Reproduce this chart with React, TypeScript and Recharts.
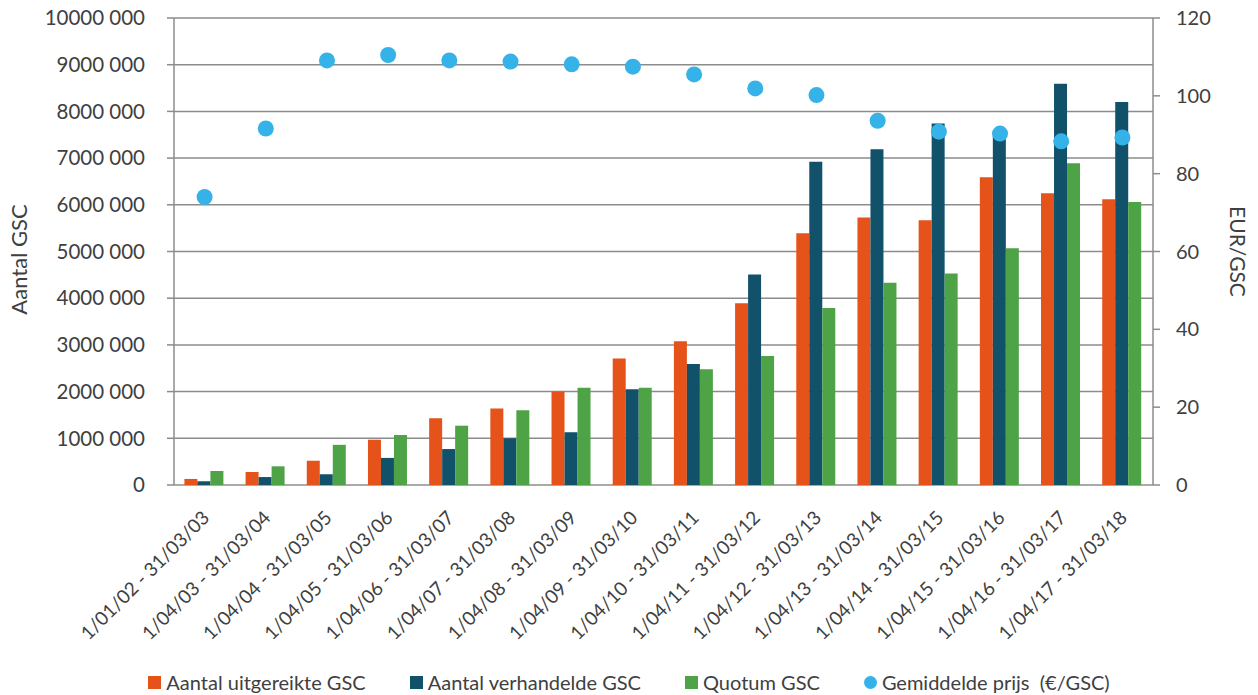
import { ComposedChart, Bar, Scatter, XAxis, YAxis, CartesianGrid, Legend } from 'recharts'

// Groenestroomcertificaten per periode
const periods = [
  '1/01/02 - 31/03/03',
  '1/04/03 - 31/03/04',
  '1/04/04 - 31/03/05',
  '1/04/05 - 31/03/06',
  '1/04/06 - 31/03/07',
  '1/04/07 - 31/03/08',
  '1/04/08 - 31/03/09',
  '1/04/09 - 31/03/10',
  '1/04/10 - 31/03/11',
  '1/04/11 - 31/03/12',
  '1/04/12 - 31/03/13',
  '1/04/13 - 31/03/14',
  '1/04/14 - 31/03/15',
  '1/04/15 - 31/03/16',
  '1/04/16 - 31/03/17',
  '1/04/17 - 31/03/18',
]

const uitgereikt = [
  130000, 280000, 520000, 970000, 1430000, 1640000, 2000000, 2710000, 3080000, 3890000, 5390000,
  5730000, 5670000, 6590000, 6250000, 6120000,
]
const verhandeld = [
  80000, 170000, 230000, 580000, 770000, 1000000, 1130000, 2050000, 2590000, 4510000, 6920000,
  7190000, 7740000, 7550000, 8590000, 8200000,
]
const quotum = [
  300000, 400000, 860000, 1070000, 1270000, 1600000, 2080000, 2080000, 2480000, 2760000, 3790000,
  4330000, 4530000, 5070000, 6890000, 6060000,
]
const prijs = [74, 91.6, 109.1, 110.5, 109.1, 108.8, 108.1, 107.5, 105.5, 101.9, 100.2, 93.6, 90.8, 90.3, 88.3, 89.3]

const countTicks = [0, 1000000, 2000000, 3000000, 4000000, 5000000, 6000000, 7000000, 8000000, 9000000, 10000000]
const priceTicks = [0, 20, 40, 60, 80, 100, 120]
const boundaryTicks = periods.map((_, i) => i).concat(periods.length)

const FONT = 'Lato, "Open Sans", sans-serif'
const TEXT = '#404040'
const AXIS = '#8c8c8c'

const legendItems = [
  { label: 'Aantal uitgereikte GSC', color: '#e6531a', round: false },
  { label: 'Aantal verhandelde GSC', color: '#12516a', round: false },
  { label: 'Quotum GSC', color: '#4ea346', round: false },
  { label: 'Gemiddelde prijs  (€/GSC)', color: '#35b3e9', round: true },
]

const data = periods.map((period, i) => ({
  period,
  uitgereikt: uitgereikt[i],
  verhandeld: verhandeld[i],
  quotum: quotum[i],
  prijs: prijs[i],
}))

const formatCount = (v: number) => (v === 0 ? '0' : `${v / 1000} 000`)

function PeriodTick({ x, y, payload }: any) {
  return (
    <g transform={`translate(${x + 6},${y + 34}) rotate(-45)`}>
      <text x={0} y={0} textAnchor="end" fontSize={19} fill={TEXT} fontFamily={FONT}>
        {payload.value}
      </text>
    </g>
  )
}

function LegendContent() {
  return (
    <div
      style={{
        height: 26,
        display: 'flex',
        justifyContent: 'center',
        alignItems: 'center',
        gap: 44,
        fontFamily: FONT,
        fontSize: 20,
        color: TEXT,
      }}
    >
      {legendItems.map((item) => (
        <div key={item.label} style={{ display: 'flex', alignItems: 'center', gap: 5 }}>
          <span
            style={{
              width: 13,
              height: 13,
              background: item.color,
              borderRadius: item.round ? '50%' : 0,
              display: 'inline-block',
            }}
          />
          <span style={{ whiteSpace: 'pre' }}>{item.label}</span>
        </div>
      ))}
    </div>
  )
}

export default function App() {
  return (
    <div>
      <style>{'body{margin:0;background:#fff}'}</style>
      <ComposedChart
        width={1258}
        height={695}
        data={data}
        margin={{ top: 18, right: 0, bottom: 0, left: 0 }}
        barCategoryGap="17%"
        barGap={0}
        style={{ fontFamily: FONT }}
      >
        <CartesianGrid yAxisId="left" vertical={false} stroke={AXIS} strokeWidth={1.5} />
        <XAxis
          xAxisId="bounds"
          type="number"
          domain={[0, periods.length]}
          ticks={boundaryTicks}
          tick={false}
          tickSize={7}
          tickLine={{ stroke: AXIS, strokeWidth: 1.5 }}
          axisLine={{ stroke: AXIS, strokeWidth: 1.5 }}
          height={0}
          allowDataOverflow
        />
        <XAxis
          dataKey="period"
          interval={0}
          height={184}
          tickSize={0}
          tickMargin={0}
          tickLine={false}
          axisLine={false}
          tick={<PeriodTick />}
        />
        <YAxis
          yAxisId="left"
          width={174}
          domain={[0, 10000000]}
          ticks={countTicks}
          tickFormatter={formatCount}
          tickSize={7}
          tickMargin={22}
          tick={{ fontSize: 20.5, fill: TEXT }}
          tickLine={{ stroke: AXIS, strokeWidth: 1.5 }}
          axisLine={{ stroke: AXIS, strokeWidth: 1.5 }}
          label={({ viewBox }: any) => (
            <text
              transform={`translate(${viewBox.x + 18},${viewBox.y + viewBox.height / 2 + 8}) rotate(-90)`}
              textAnchor="middle"
              dominantBaseline="central"
              fontSize={22}
              fill={TEXT}
              fontFamily={FONT}
            >
              Aantal GSC
            </text>
          )}
        />
        <YAxis
          yAxisId="right"
          orientation="right"
          width={105}
          domain={[0, 120]}
          ticks={priceTicks}
          tickSize={7}
          tickMargin={16}
          tick={{ fontSize: 20, fill: TEXT }}
          tickLine={{ stroke: AXIS, strokeWidth: 1.5 }}
          axisLine={{ stroke: AXIS, strokeWidth: 1.5 }}
          label={({ viewBox }: any) => (
            <text
              transform={`translate(${viewBox.x + 85},${viewBox.y + viewBox.height / 2}) rotate(90)`}
              textAnchor="middle"
              dominantBaseline="central"
              fontSize={21}
              fill={TEXT}
              fontFamily={FONT}
            >
              EUR/GSC
            </text>
          )}
        />
        <Legend verticalAlign="bottom" content={() => <LegendContent />} />
        <Bar yAxisId="left" dataKey="uitgereikt" name="Aantal uitgereikte GSC" fill="#e6531a" isAnimationActive={false} />
        <Bar yAxisId="left" dataKey="verhandeld" name="Aantal verhandelde GSC" fill="#12516a" isAnimationActive={false} />
        <Bar yAxisId="left" dataKey="quotum" name="Quotum GSC" fill="#4ea346" isAnimationActive={false} />
        <Scatter
          yAxisId="right"
          dataKey="prijs"
          name="Gemiddelde prijs (€/GSC)"
          fill="#35b3e9"
          isAnimationActive={false}
          shape={(p: any) => <circle cx={p.cx} cy={p.cy} r={8} fill="#35b3e9" />}
        />
      </ComposedChart>
    </div>
  )
}
